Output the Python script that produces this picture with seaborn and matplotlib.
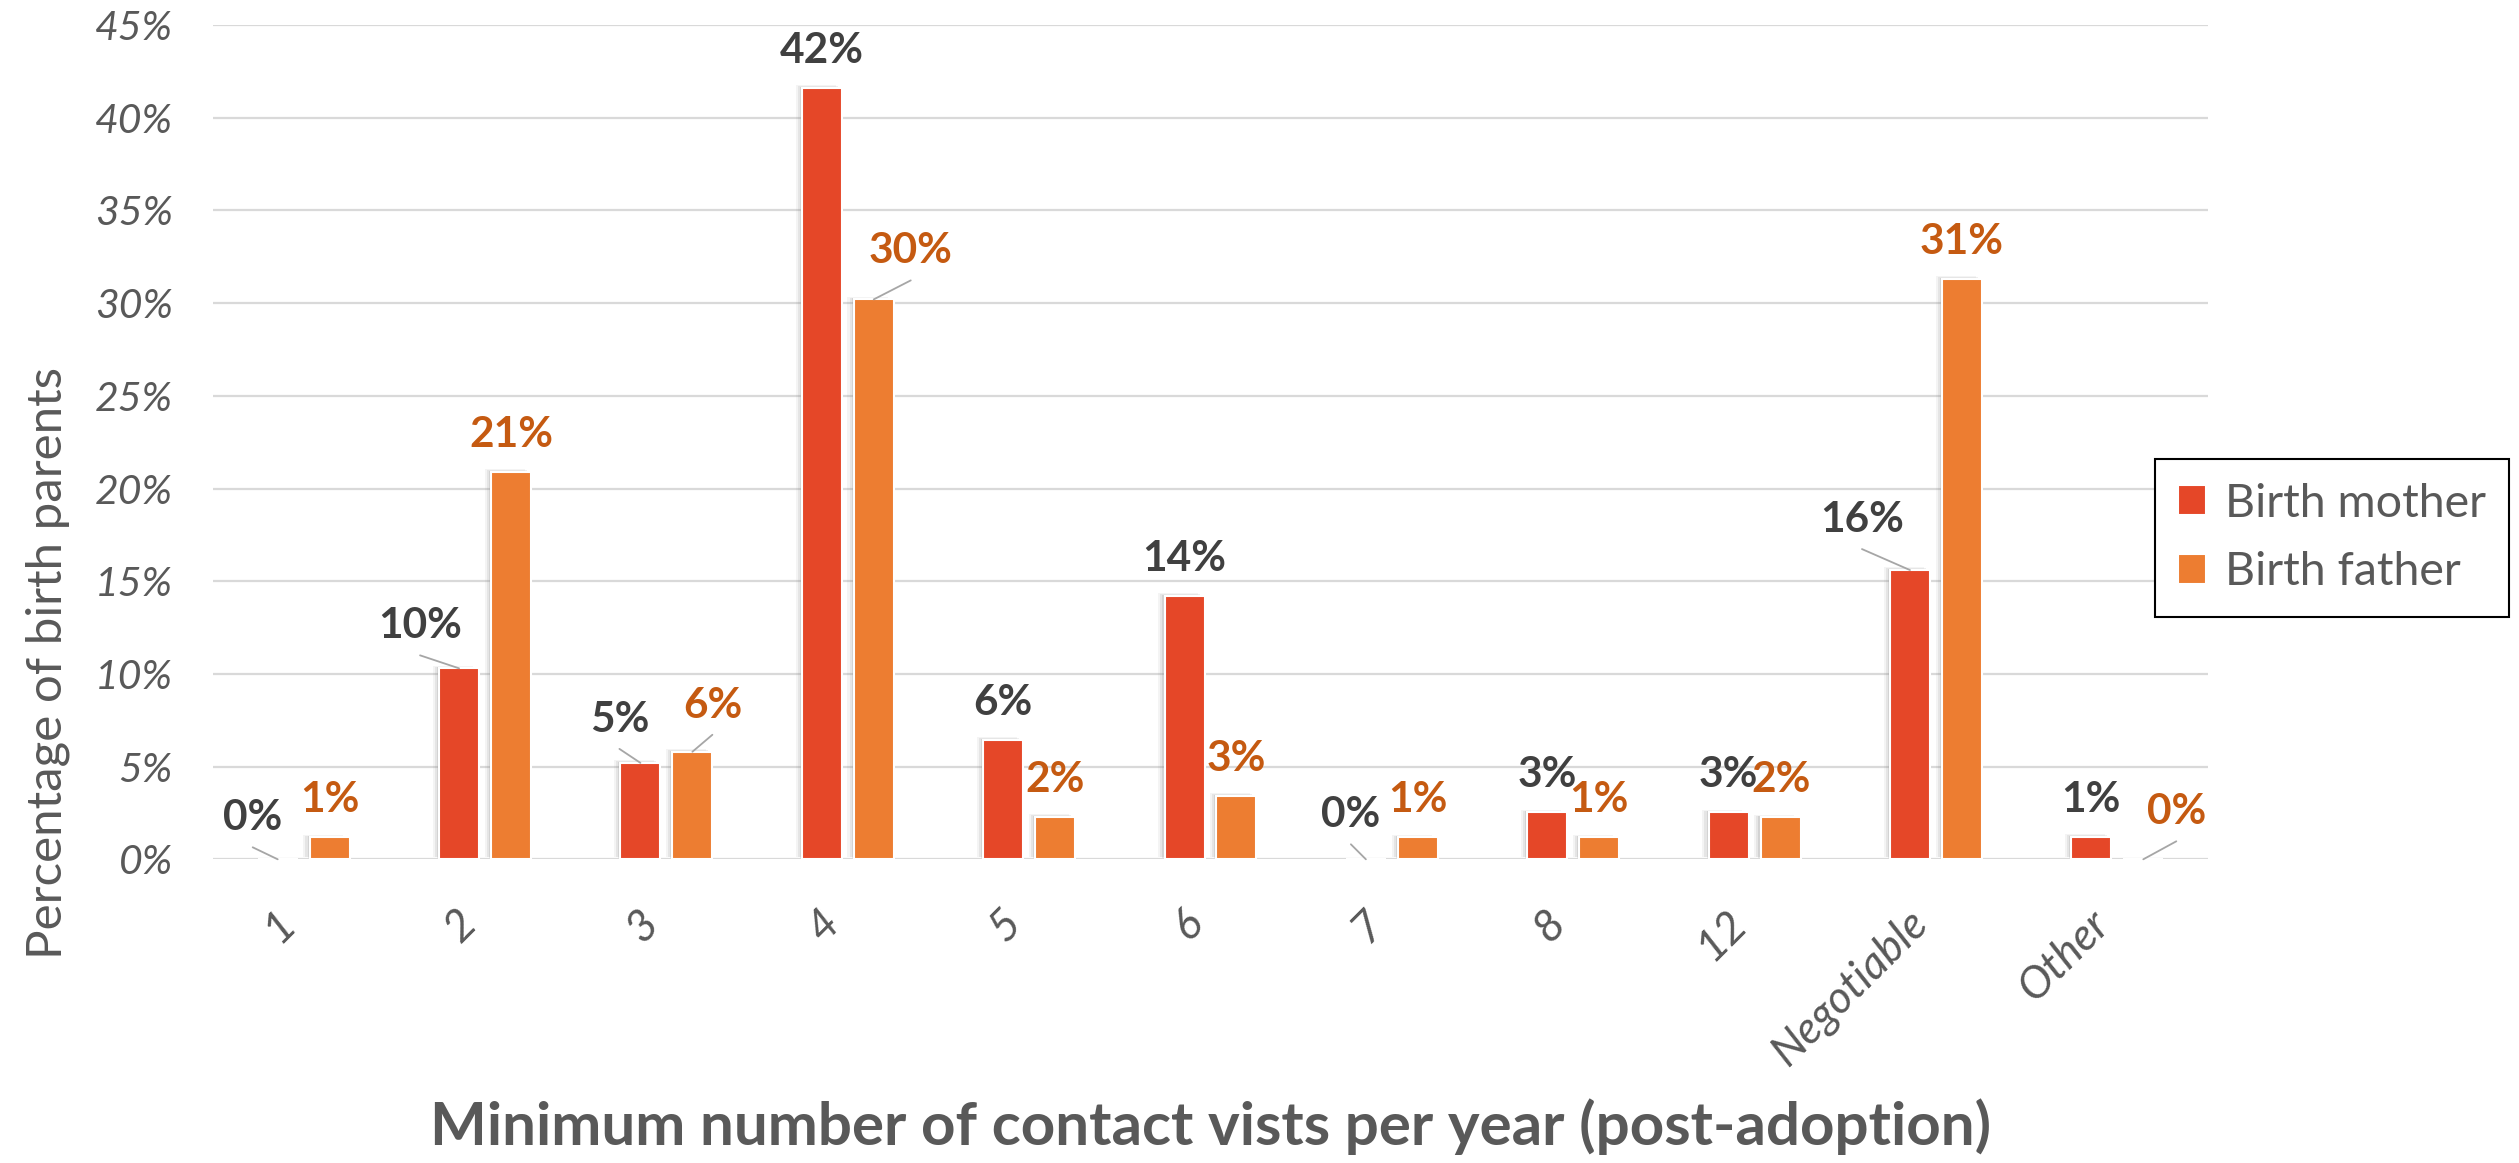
import numpy as np
import pandas as pd
import matplotlib
matplotlib.use('Agg')
import matplotlib.pyplot as plt
import matplotlib.patheffects as pe
from matplotlib.ticker import FuncFormatter, MultipleLocator
import seaborn as sns

# ── data ──────────────────────────────────────────────────────────────────────
categories = ['1', '2', '3', '4', '5', '6', '7', '8', '12', 'Negotiable', 'Other']
parents = ['Birth mother', 'Birth father']
mother_pct = [0.0, 10.3, 5.2, 41.6, 6.45, 14.2, 0.0, 2.53, 2.53, 15.6, 1.22]
father_pct = [1.18, 20.9, 5.8, 30.2, 2.29, 3.44, 1.18, 1.18, 2.26, 31.3, 0.0]

# data label nudges (pixels, label centre relative to bar top, +y = down)
mother_dx = [-25, -39, -21, 0, 0, 0, -15, 0, 0, -48, 0]
mother_dy = [-44, -45, -46, -40, -40, -40, -47, -40, -40, -53, -40]
father_dx = [0, 0, 20, 37, 0, 0, 0, 0, 0, 0, 33]
father_dy = [-40, -40, -49, -51, -40, -40, -40, -40, -40, -40, -50]

c_mother = '#E54728'
c_father = '#ED7D31'
grey_txt = '#595959'

df = pd.DataFrame({
    'visits': categories * 2,
    'pct': mother_pct + father_pct,
    'parent': [parents[0]] * len(categories) + [parents[1]] * len(categories),
})

# ── plot ──────────────────────────────────────────────────────────────────────
sns.set_style('white')
plt.rcParams['font.family'] = ['Lato', 'DejaVu Sans']

W, H = 2519, 1163
fig = plt.figure(figsize=(W / 100, H / 100), dpi=100)
ax = fig.add_axes([213 / W, 1 - 859.3 / H, (2208 - 213) / W, (859.3 - 25) / H])

sns.barplot(data=df, x='visits', y='pct', hue='parent', order=categories,
            hue_order=parents, palette=[c_mother, c_father], saturation=1,
            width=0.573, gap=0.23, edgecolor='white', linewidth=1.5, ax=ax)

ax.set_ylim(0, 45)
ax.yaxis.set_major_locator(MultipleLocator(5))
ax.yaxis.set_major_formatter(FuncFormatter(lambda v, _: f'{v:.0f}%'))
ax.yaxis.grid(True, color='#D9D9D9', lw=1.6)
ax.set_axisbelow(True)
for s in ax.spines.values():
    s.set_visible(False)
ax.tick_params(axis='y', length=0, pad=29, labelsize=29.5, labelcolor=grey_txt)
ax.tick_params(axis='x', length=0, pad=31, labelsize=32, labelcolor=grey_txt)
for t in ax.get_yticklabels():
    t.set_style('italic')
for t in ax.get_xticklabels():
    t.set_style('italic')
    t.set_rotation(45)
    t.set_ha('right')
    t.set_va('top')
ax.set_xlabel('')
ax.set_ylabel('')

# soft shadow like the spreadsheet bars
shadow = [pe.SimplePatchShadow(offset=(-4.5, 2), shadow_rgbFace='#7f7f7f', alpha=0.08),
          pe.SimplePatchShadow(offset=(-3, 1.3), shadow_rgbFace='#7f7f7f', alpha=0.12),
          pe.SimplePatchShadow(offset=(-1.5, 0.7), shadow_rgbFace='#7f7f7f', alpha=0.18),
          pe.Normal()]

series = [(mother_pct, mother_dx, mother_dy, '#404040'),
          (father_pct, father_dx, father_dy, '#C55A11')]
for cont, (vals, dxs, dys, col) in zip(ax.containers, series):
    for rect, v, dx, dy in zip(cont.patches, vals, dxs, dys):
        if rect.get_height() > 0:
            rect.set_path_effects(shadow)
        xc = rect.get_x() + rect.get_width() / 2
        top = rect.get_height()
        ax.annotate(f'{v:.0f}%', xy=(xc, top), xytext=(dx, -(dy + 15)),
                    textcoords='offset pixels', ha='center', va='baseline',
                    fontsize=30.5, fontweight='bold', color=col)
        if dx != 0:
            ax.annotate('', xy=(xc, top), xytext=(dx, -(dy + 32)),
                        textcoords='offset pixels',
                        arrowprops=dict(arrowstyle='-', color='#A6A6A6', lw=1.3,
                                        shrinkA=0, shrinkB=0))

handles, labels = ax.get_legend_handles_labels()
ax.legend(handles, labels, loc='center left',
          bbox_to_anchor=(2155 / W, 1 - 538 / H), bbox_transform=fig.transFigure,
          borderaxespad=0, fontsize=33.5, labelcolor=grey_txt, frameon=True,
          fancybox=False, edgecolor='black', framealpha=1,
          handlelength=0.6, handleheight=0.6, handletextpad=0.4,
          borderpad=0.5, labelspacing=0.58)
ax.get_legend().get_frame().set_linewidth(1.5)

fig.text(48 / W, 1 - 663 / H, 'Percentage of birth parents', rotation=90,
         ha='center', va='center', fontsize=35.5, color=grey_txt)
fig.text(1211 / W, 1 - 1127 / H,
         'Minimum number of contact vists per year (post-adoption)',
         ha='center', va='center', fontsize=43.3, fontweight='bold', color=grey_txt)

fig.savefig('out.png', dpi=100, facecolor='white')
